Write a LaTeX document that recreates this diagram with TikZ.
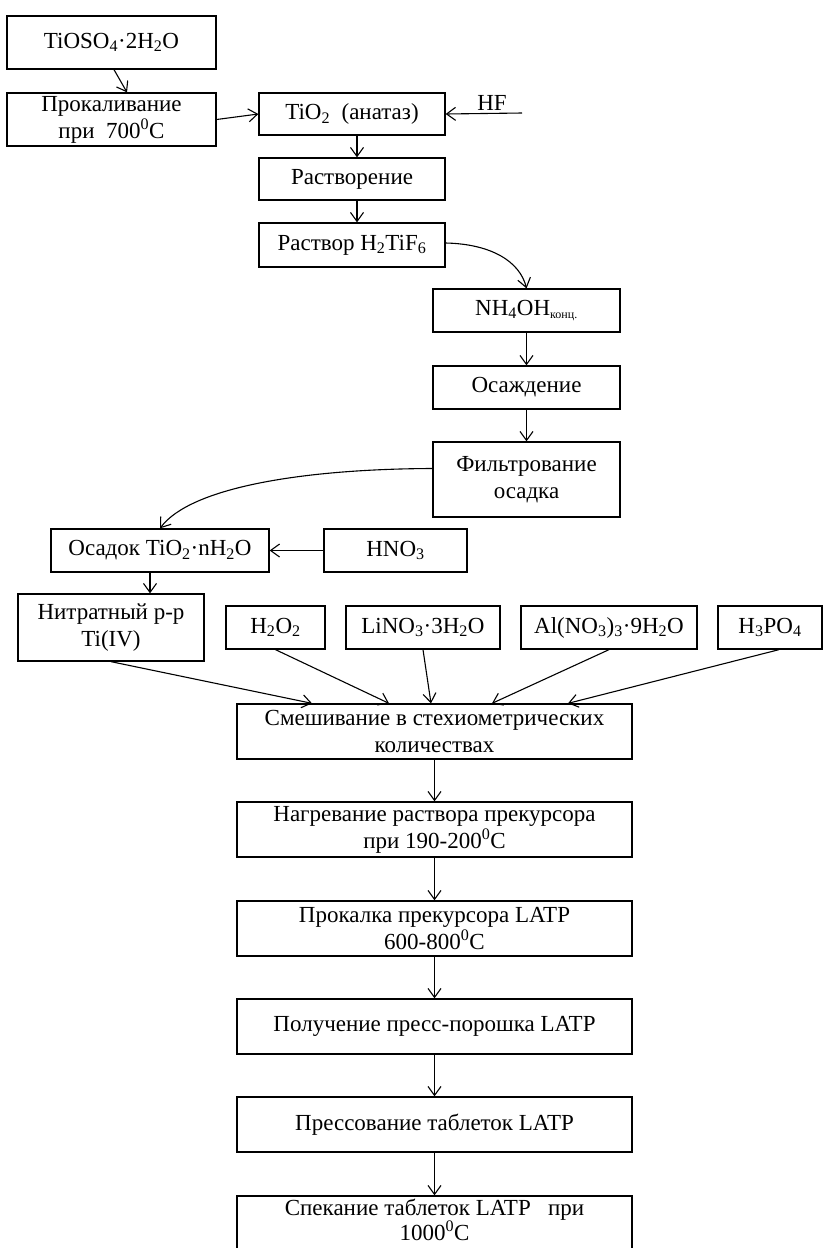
\documentclass[tikz,border=0pt]{standalone}
\usepackage{fontspec}
\setmainfont{Liberation Serif}
\usetikzlibrary{arrows.meta}
\begin{document}
\begin{tikzpicture}[x=1pt,y=-1pt,
  box/.style={draw, line width=1.3pt, inner sep=0pt, align=center,
    font=\fontsize{23}{27}\selectfont},
  lbl/.style={inner sep=0pt, font=\fontsize{23}{27}\selectfont},
  arr/.style={line width=1.1pt, -{Straight Barb[length=9pt,width=13pt,line width=1.1pt]}}]
\fill[white] (0,0) rectangle (830,1248);
\useasboundingbox (0,0) rectangle (830,1248);

\node[box, minimum width=209pt, minimum height=53pt] (tioso4) at (111.5,42.5) {TiOSO\textsubscript{4}·2H\textsubscript{2}O};
\node[box, minimum width=209pt, minimum height=53pt] (prok) at (111.5,119.5) {Прокаливание\\при~~700\textsuperscript{0}C};
\node[box, minimum width=186pt, minimum height=42pt] (tio2) at (352,114) {TiO\textsubscript{2}~ (анатаз)};
\node[box, minimum width=186pt, minimum height=42pt] (rastv) at (352,179) {Растворение};
\node[box, minimum width=186pt, minimum height=44pt] (h2tif6) at (352,245) {Раствор H\textsubscript{2}TiF\textsubscript{6}};
\node[lbl] (hf) at (492,103) {HF};
\coordinate (hfend) at (522,113);
\node[box, minimum width=187pt, minimum height=43pt] (nh4oh) at (526.5,310.5) {NH\textsubscript{4}OH\textsubscript{\fontsize{12}{12}\selectfont конц.}};
\node[box, minimum width=187pt, minimum height=43pt] (osazh) at (526.5,387.5) {Осаждение};
\node[box, minimum width=187pt, minimum height=75pt] (filtr) at (526.5,479.5) {Фильтрование\\осадка};
\node[box, minimum width=218pt, minimum height=43pt] (osadok) at (160,550.5) {Осадок TiO\textsubscript{2}·nH\textsubscript{2}O};
\node[box, minimum width=143pt, minimum height=43pt] (hno3) at (395.5,550.5) {HNO\textsubscript{3}};
\node[box, minimum width=186pt, minimum height=67pt] (nitr) at (111,627.5) {Нитратный р-р\\Ti(IV)};
\node[box, minimum width=99pt, minimum height=43pt] (h2o2) at (275.5,627.5) {H\textsubscript{2}O\textsubscript{2}};
\node[box, minimum width=154pt, minimum height=43pt] (lino3) at (423,627.5) {LiNO\textsubscript{3}·3H\textsubscript{2}O};
\node[box, minimum width=176pt, minimum height=43pt] (alno3) at (609,627.5) {Al(NO\textsubscript{3})\textsubscript{3}·9H\textsubscript{2}O};
\node[box, minimum width=104pt, minimum height=43pt] (h3po4) at (770,627.5) {H\textsubscript{3}PO\textsubscript{4}};
\node[box, minimum width=395pt, minimum height=55pt] (mix) at (434.5,731.5) {Смешивание в стехиометрических\\количествах};
\node[box, minimum width=395pt, minimum height=55pt] (heat) at (434.5,829.5) {Нагревание раствора прекурсора\\при 190-200\textsuperscript{0}C};
\node[box, minimum width=395pt, minimum height=55pt] (calc) at (434.5,928.5) {Прокалка прекурсора LATP\\600-800\textsuperscript{0}C};
\node[box, minimum width=395pt, minimum height=55pt] (powder) at (434.5,1026.5) {Получение пресс-порошка LATP};
\node[box, minimum width=395pt, minimum height=55pt] (press) at (434.5,1124.5) {Прессование таблеток LATP};
\node[box, minimum width=395pt, minimum height=56pt, font=\fontsize{23}{25}\selectfont, text depth=8pt] (sinter) at (434.5,1224) {Спекание таблеток LATP~~~при\\1000\textsuperscript{0}C};

\draw[arr] ([xshift=2.5pt]tioso4.south) -- ([xshift=15.5pt]prok.north);
\draw[arr] (prok.east) -- (tio2.west);
\draw[arr] (hfend) -- (tio2.east);
\draw[arr] ([xshift=5pt]tio2.south) -- ([xshift=5pt]rastv.north);
\draw[arr] ([xshift=5pt]rastv.south) -- ([xshift=5pt]h2tif6.north);
\draw[arr] ([yshift=2pt]h2tif6.east) .. controls (492,244) and (520,262) .. (nh4oh.north);
\draw[arr] (nh4oh.south) -- (osazh.north);
\draw[arr] (osazh.south) -- (filtr.north);
\draw[arr] ([yshift=11pt]filtr.west) .. controls (300,469) and (190,488) .. (osadok.north);
\draw[arr] (hno3.west) -- (osadok.east);
\draw[arr] ([xshift=-10pt]osadok.south) -- ([xshift=-10pt]osadok.south |- nitr.north);
\draw[arr] (nitr.south) -- ([xshift=-122.5pt]mix.north);
\draw[arr] (h2o2.south) -- ([xshift=-45.5pt]mix.north);
\draw[arr] (lino3.south) -- ([xshift=-3.5pt]mix.north);
\draw[arr] (alno3.south) -- ([xshift=57.5pt]mix.north);
\draw[arr] ([xshift=9pt]h3po4.south) -- ([xshift=133.5pt]mix.north);
\draw[arr] (mix.south) -- (heat.north);
\draw[arr] (heat.south) -- (calc.north);
\draw[arr] (calc.south) -- (powder.north);
\draw[arr] (powder.south) -- (press.north);
\draw[arr] (press.south) -- (sinter.north);
\end{tikzpicture}
\end{document}
